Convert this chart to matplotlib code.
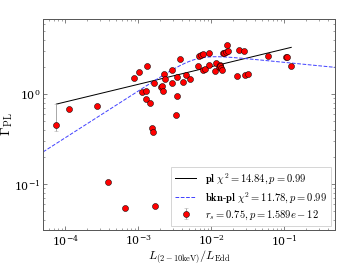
import numpy as np
import matplotlib.pyplot as plt

plt.rcParams['mathtext.fontset'] = 'cm'
plt.rcParams['font.family'] = 'serif'
plt.rcParams['font.serif'] = ['DejaVu Serif']

# Eddington ratio and photon index
x = [7.6e-5, 1.12e-4, 2.73e-4, 3.86e-4, 6.65e-4, 8.7e-4, 1.03e-3, 1.13e-3,
     1.27e-3, 1.28e-3, 1.32e-3, 1.48e-3, 1.55e-3, 1.6e-3, 1.66e-3, 1.73e-3,
     2.05e-3, 2.1e-3, 2.2e-3, 2.27e-3, 2.35e-3, 2.91e-3, 2.93e-3, 3.27e-3,
     3.4e-3, 3.4e-3, 3.81e-3, 4.1e-3, 4.59e-3, 5.15e-3, 6.67e-3, 6.8e-3,
     7.2e-3, 7.8e-3, 7.9e-3, 8.4e-3, 9.4e-3, 9.5e-3, 1.14e-2, 1.17e-2,
     1.27e-2, 1.31e-2, 1.35e-2, 1.38e-2, 1.42e-2, 1.46e-2, 1.53e-2, 1.6e-2,
     1.68e-2, 1.73e-2, 2.29e-2, 2.45e-2, 2.8e-2, 2.9e-2, 3.2e-2, 6.15e-2,
     1.07e-1, 1.12e-1, 1.26e-1]
gamma = [0.45, 0.687, 0.742, 0.106, 0.0537, 1.51, 1.75, 1.06,
         1.09, 0.88, 2.06, 0.794, 0.423, 0.385, 1.325, 0.057,
         1.2, 1.25, 1.09, 1.68, 1.49, 1.85, 1.325, 0.584,
         0.95, 1.57, 2.45, 1.36, 1.63, 1.47, 2.08, 2.69,
         2.73, 2.81, 1.86, 1.89, 2.14, 2.9, 1.83, 2.23,
         2.03, 2.1, 2.06, 1.94, 1.86, 2.9, 2.85, 2.95,
         3.53, 3.03, 1.6, 3.08, 3.0, 1.65, 1.7, 2.64,
         2.62, 2.62, 2.06]
err_lo = [0.06] + [0.0] * (len(x) - 1)
err_hi = [0.32] + [0.0] * (len(x) - 1)

# fit parameters
pl_norm, pl_index = 3.33, 0.196          # y = norm * (x/0.128)^index
bkn_logA, bkn_lb, bkn_a1, bkn_a2, bkn_s = 0.451, -2.2, 0.52, -0.08, 0.33

x = np.array(x)
xl = np.array([x.min(), x.max()])
y_pl = pl_norm * (xl / 0.128) ** pl_index

xb = np.logspace(np.log10(5e-5), np.log10(0.5), 300)
d = np.log10(xb) - bkn_lb
y_bkn = 10 ** (bkn_logA + bkn_a1 * d
               - (bkn_a1 - bkn_a2) * bkn_s * np.log10(1 + 10 ** (d / bkn_s)))

fig = plt.figure(figsize=(4.79, 3.67), dpi=72)
ax = fig.add_axes([0.125, 0.129, 0.846, 0.799])

ax.plot(xl, y_pl, color='k', lw=1,
        label=r'$\mathbf{pl}\ \chi^2=14.84, p=0.99$')
ax.plot(xb, y_bkn, color='#4444ff', lw=1, ls='--',
        label=r'$\mathbf{bkn\text{-}pl}\ \chi^2=11.78, p=0.99$')
ax.errorbar(x, gamma, yerr=[err_lo, err_hi], fmt='o', color='red',
            mec='k', mew=0.5, ms=6, ecolor='#aaaaaa', elinewidth=1,
            capsize=2, label=r'$r_s=0.75, p=1.589e-12$')

ax.set_xscale('log')
ax.set_yscale('log')
ax.set_xlim(5e-5, 0.5)
ax.set_ylim(0.031, 6.9)
ax.set_xlabel(r'$L_{(2-10{\rm keV})}/L_{\rm Edd}$', fontsize=12)
ax.set_ylabel(r'$\Gamma_{\rm PL}$', fontsize=14)
ax.xaxis.set_label_coords(0.5, -0.088)
ax.yaxis.set_label_coords(-0.095, 0.5)

for s in ax.spines.values():
    s.set_color('0.35')
    s.set_linewidth(1)
ax.tick_params(which='both', direction='in', top=True, right=True,
               color='0.4', labelsize=11)
ax.tick_params(which='major', length=4, pad=3)
ax.tick_params(which='minor', length=2)

leg = ax.legend(loc='lower right', fontsize=10.5, fancybox=False,
                edgecolor='0.8', handlelength=2, borderaxespad=0.4,
                labelspacing=0.35)

fig.savefig('out.png', dpi=72)
